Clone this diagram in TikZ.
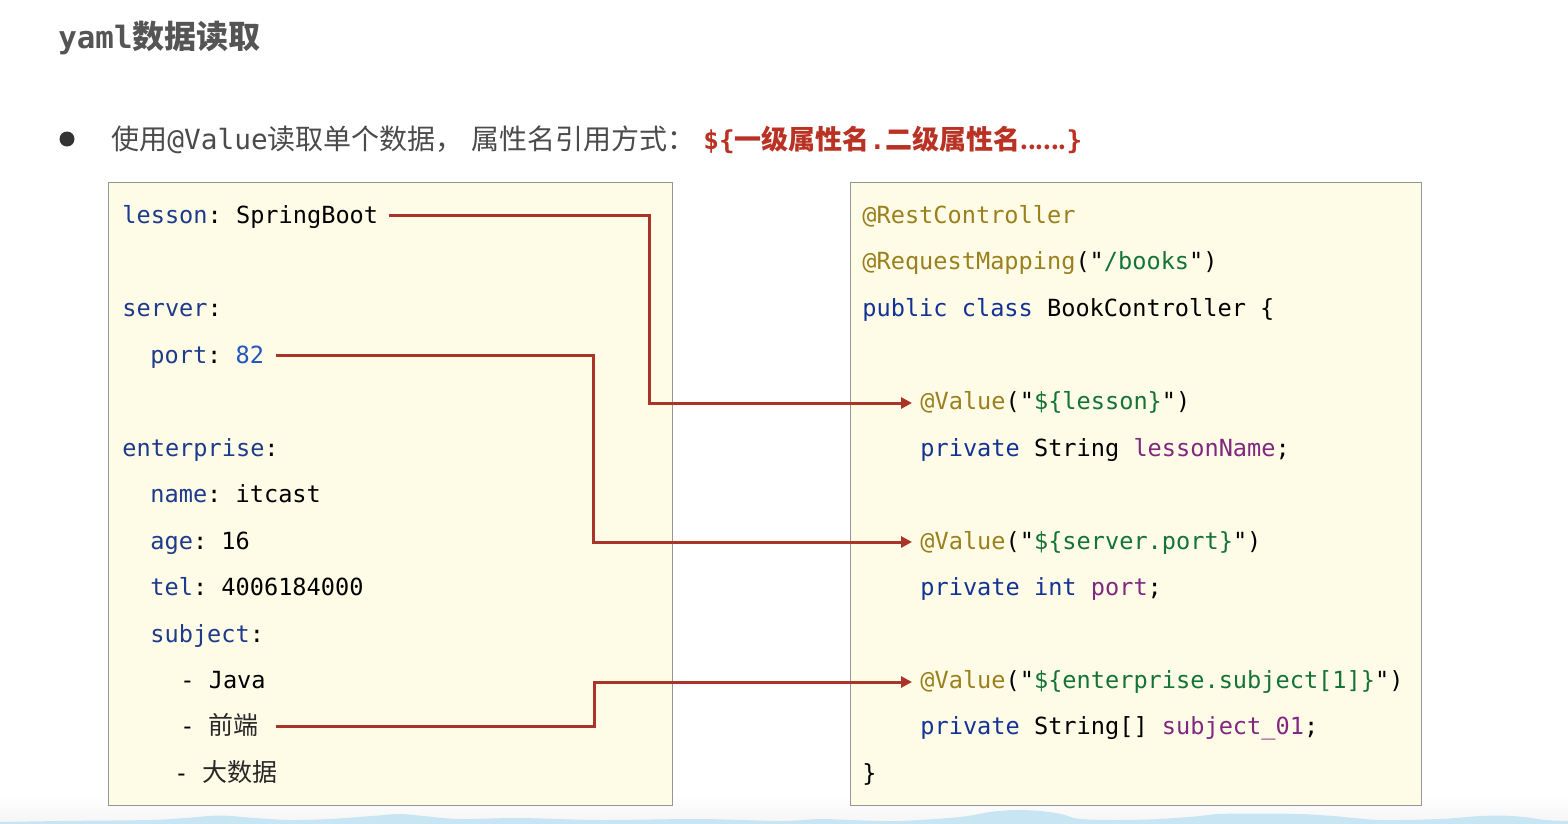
\documentclass[tikz,border=0pt]{standalone}
\usepackage{fontspec}
\setmonofont{DejaVu Sans Mono}
\newfontfamily\cjk{Noto Sans CJK SC}
\usetikzlibrary{arrows.meta}
\definecolor{arrowred}{RGB}{170,52,40}
\definecolor{titlered}{RGB}{185,50,35}
\definecolor{keyblue}{RGB}{30,58,140}
\definecolor{numblue}{RGB}{35,85,190}
\definecolor{kwblue}{RGB}{20,50,150}
\definecolor{anngold}{RGB}{155,128,30}
\definecolor{strgreen}{RGB}{20,115,55}
\definecolor{fldpurple}{RGB}{128,40,128}
\definecolor{boxfill}{RGB}{254,252,230}
\definecolor{boxline}{RGB}{150,150,150}
\definecolor{titlegray}{RGB}{85,85,85}
\definecolor{textgray}{RGB}{75,75,75}
\definecolor{cjkgray}{RGB}{40,40,40}
\definecolor{wavecol}{RGB}{200,229,244}
\newcommand\ykey[1]{\textcolor{keyblue}{#1}}
\newcommand\ynum[1]{\textcolor{numblue}{#1}}
\newcommand\jann[1]{\textcolor{anngold}{#1}}
\newcommand\jstr[1]{\textcolor{strgreen}{#1}}
\newcommand\jkw[1]{\textcolor{kwblue}{#1}}
\newcommand\jfld[1]{\textcolor{fldpurple}{#1}}
\newcommand\ycjk[1]{{\cjk\fontsize{12.5}{14}\selectfont\textcolor{cjkgray}{#1}}}
\newcommand\bcjk{\cjk\fontsize{14}{16}\selectfont}
\newcommand\bmono{\ttfamily\fontsize{13.9}{16}\selectfont}
\newcommand\rcjk{\cjk\bfseries\fontsize{13.5}{16}\selectfont}
\newcommand\rmono{\ttfamily\bfseries\fontsize{13}{16}\selectfont}
\tikzset{
  codeline/.style={font=\ttfamily\fontsize{11.8}{14}\selectfont, inner sep=0pt, anchor=mid west, text=black},
  codebox/.style={draw=boxline, fill=boxfill, line width=0.7pt, anchor=north west, inner sep=0pt},
  conn/.style={draw=arrowred, line width=1.5pt, -{Triangle[length=5.5pt,width=5.5pt]}},
  headline/.style={anchor=mid west, inner sep=0pt, font=\cjk\fontsize{14}{16}\selectfont},
}
\begin{document}
\begin{tikzpicture}[x=0.5pt,y=-0.5pt]
\useasboundingbox (0,0) rectangle (1568,824);
\fill[white] (0,0) rectangle (1568,824);
\shade[top color=white, bottom color=black!4] (0,795) rectangle (1568,824);
% bottom wave
\fill[wavecol] (0,824) -- plot[smooth] coordinates {(0,822) (60,821) (150,820) (185,818) (220,815.5) (255,818) (290,820) (330,819) (372,816) (400,814) (423,816) (460,819) (520,818) (600,820) (700,819) (780,821) (820,819) (850,820) (900,821) (960,817) (990,812) (1015,810) (1040,811) (1061,814) (1080,819) (1120,820) (1160,819) (1200,816) (1217,814) (1260,813.5) (1300,814) (1333,816) (1380,820) (1440,819) (1473,816.5) (1500,815.5) (1524,817) (1545,820) (1568,821)} -- (1568,824) -- cycle;
% title
\node[anchor=west, inner sep=0pt, text=titlegray] (title) at (58,38)
  {{\ttfamily\bfseries\fontsize{15.4}{18}\selectfont yaml}{\cjk\bfseries\fontsize{16}{18}\selectfont 数据读取}};
% bullet line
\node[circle, fill=black!80, inner sep=0pt, minimum size=7.5pt] (bullet) at (67,139) {};
\node[headline, text=textgray] (btext) at (111,145)
  {{\bcjk 使用}{\bmono @Value}{\bcjk 读取单个数据，\hspace{4pt}属性名引用方式：}};
\node[headline, text=titlered] (bred) at (703,145)
  {{\rmono \$\{}{\rcjk 一级属性名}{\rmono .}{\rcjk 二级属性名}{\cjk\bfseries\fontsize{11}{16}\selectfont ......}{\rmono \}}};
% boxes
\node[codebox, minimum width=282pt, minimum height=311.5pt] (lbox) at (108,182) {};
\node[codebox, minimum width=285.5pt, minimum height=311.5pt] (rbox) at (850,182) {};
% yaml
\node[codeline] (y1) at (122,219) {\ykey{lesson}: SpringBoot};
\node[codeline] (y2) at (122,312) {\ykey{server}:};
\node[codeline] (y3) at (150,359) {\ykey{port}: \ynum{82}};
\node[codeline] (y4) at (122,452) {\ykey{enterprise}:};
\node[codeline] (y5) at (150,498) {\ykey{name}: itcast};
\node[codeline] (y6) at (150,545) {\ykey{age}: 16};
\node[codeline] (y7) at (150,591) {\ykey{tel}: 4006184000};
\node[codeline] (y8) at (150,638) {\ykey{subject}:};
\node[codeline] (y9) at (180,684) {- Java};
\node[codeline] (y10) at (180,730) {- \ycjk{前端}};
\node[codeline] (y11) at (174,777) {- \ycjk{大数据}};
% java
\node[codeline] (r1) at (862,219) {\jann{@RestController}};
\node[codeline] (r2) at (862,265) {\jann{@RequestMapping}("\jstr{/books}")};
\node[codeline] (r3) at (862,312) {\jkw{public class} BookController \{};
\node[codeline] (r4) at (920,405) {\jann{@Value}("\jstr{\$\{lesson\}}")};
\node[codeline] (r5) at (920,452) {\jkw{private} String \jfld{lessonName};};
\node[codeline] (r6) at (920,545) {\jann{@Value}("\jstr{\$\{server.port\}}")};
\node[codeline] (r7) at (920,591) {\jkw{private} \jkw{int} \jfld{port};};
\node[codeline] (r8) at (920,684) {\jann{@Value}("\jstr{\$\{enterprise.subject[1]\}}")};
\node[codeline] (r9) at (920,730) {\jkw{private} String[] \jfld{subject\_01};};
\node[codeline] (r10) at (862,777) {\}};
% connectors
\coordinate (k1) at (649,0);
\coordinate (k2) at (593,0);
\coordinate (k3) at (594,0);
\draw[conn] ([xshift=5pt,yshift=2pt]y1.mid east) -- ([yshift=2pt]y1.mid east -| k1) |- ([xshift=-4pt,yshift=1pt]r4.mid west);
\draw[conn] ([xshift=6pt,yshift=2pt]y3.mid east) -- ([yshift=2pt]y3.mid east -| k2) |- ([xshift=-4pt,yshift=1.5pt]r6.mid west);
\draw[conn] ([xshift=8.5pt,yshift=2pt]y10.mid east) -- ([yshift=2pt]y10.mid east -| k3) |- ([xshift=-4pt,yshift=1pt]r8.mid west);
\end{tikzpicture}
\end{document}
